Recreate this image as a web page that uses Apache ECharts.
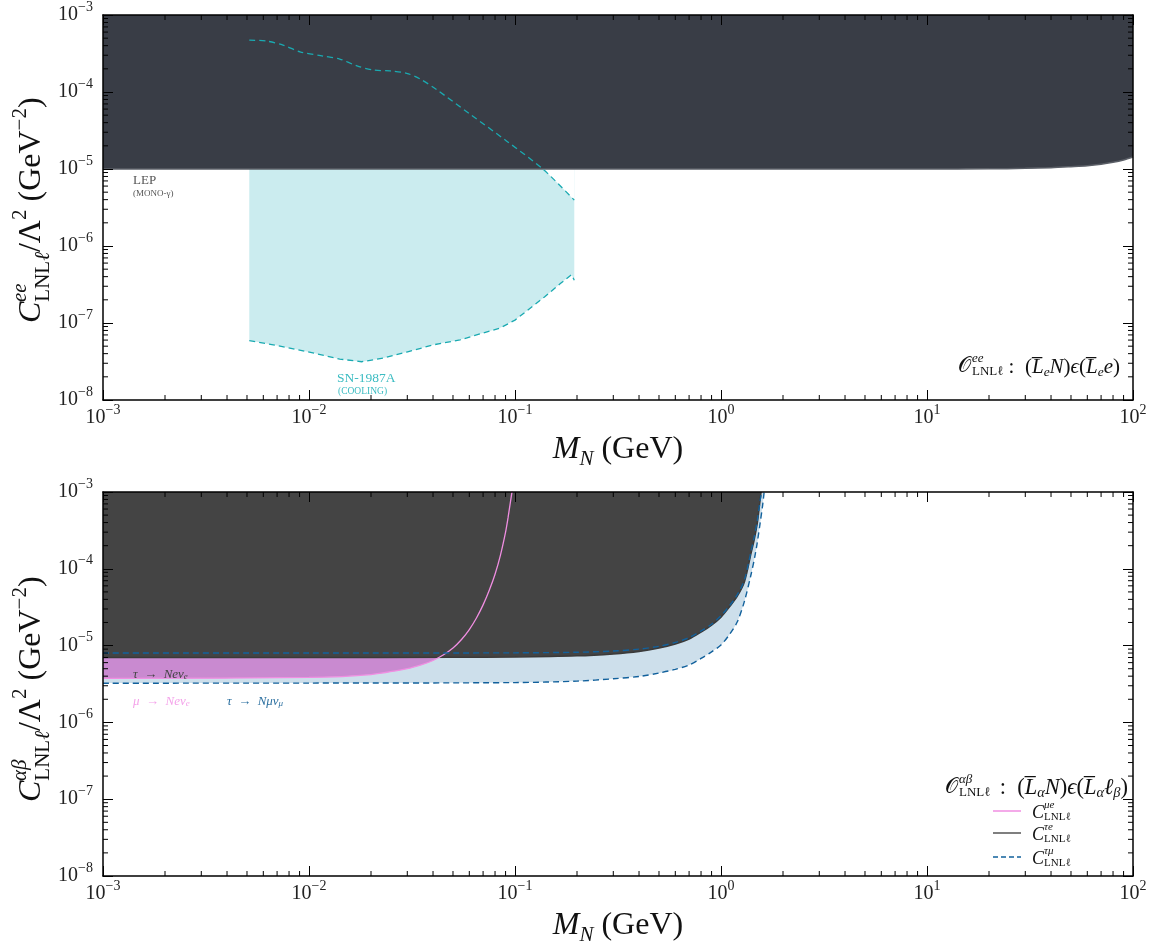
<!DOCTYPE html>
<html><head><meta charset="utf-8">
<script src="https://cdn.jsdelivr.net/npm/echarts@6/dist/echarts.min.js"></script>
<style>html,body{margin:0;padding:0;background:#fff}#c{width:1153px;height:947px}</style>
</head><body><div id="c"></div><script>
// ---------- data ----------
const xMin = 1e-3, xMax = 1e2, yMin = 1e-8, yMax = 1e-3;
const minorMultipliers = [2, 3, 4, 5, 6, 7, 8, 9];

// top panel: LEP mono-photon
const lepMass  = [1e-3, 1, 10, 20, 30, 40, 50, 60, 70, 80, 90, 100];
const lepLimit = [1e-5, 1e-5, 1e-5, 1.005e-5, 1.02e-5, 1.04e-5, 1.07e-5, 1.1e-5, 1.15e-5, 1.22e-5, 1.31e-5, 1.43e-5];
// top panel: SN-1987A cooling band
const snUpperMass = [5.13e-3, 6.24e-3, 7.48e-3, 9.04e-3, 1.17e-2, 1.41e-2, 1.71e-2, 2.05e-2, 2.47e-2, 2.98e-2, 3.46e-2, 4.17e-2, 6.05e-2, 9.12e-2, 0.137, 0.194];
const snUpper     = [4.72e-4, 4.58e-4, 4.06e-4, 3.33e-4, 2.93e-4, 2.68e-4, 2.18e-4, 1.93e-4, 1.88e-4, 1.75e-4, 1.48e-4, 1.07e-4, 5.16e-5, 2.30e-5, 9.9e-6, 3.94e-6];
const snLowerMass = [5.13e-3, 6.71e-3, 9.75e-3, 1.41e-2, 1.80e-2, 2.30e-2, 2.98e-2, 4.01e-2, 5.41e-2, 8.45e-2, 0.1, 0.139, 0.166, 0.188, 0.194];
const snLower     = [5.91e-8, 5.2e-8, 4.26e-8, 3.40e-8, 3.14e-8, 3.51e-8, 4.19e-8, 5.2e-8, 6.04e-8, 8.6e-8, 1.09e-7, 2.18e-7, 3.25e-7, 4.25e-7, 3.59e-7];

// bottom panel
const muEMass  = [1e-3, 1e-2, 2e-2, 3e-2, 3.5e-2, 4e-2, 4.5e-2, 5e-2, 5.5e-2, 6e-2, 6.5e-2, 7e-2, 7.5e-2, 8e-2, 8.5e-2, 9e-2, 9.25e-2, 9.5e-2, 9.75e-2];
const muELimit = [3.75e-6, 3.85e-6, 4.2e-6, 5.0e-6, 5.6e-6, 6.4e-6, 7.6e-6, 9.3e-6, 1.2e-5, 1.62e-5, 2.29e-5, 3.39e-5, 5.25e-5, 8.5e-5, 1.51e-4, 3.0e-4, 4.6e-4, 7.4e-4, 1.15e-3];
const tauEMass  = [1e-3, 1e-2, 0.05, 0.1, 0.2, 0.3, 0.4, 0.5, 0.6, 0.7, 0.8, 0.9, 1.0, 1.1, 1.2, 1.3, 1.4, 1.45, 1.5, 1.53, 1.565];
const tauELimit = [7.0e-6, 7.0e-6, 7.05e-6, 7.1e-6, 7.35e-6, 7.8e-6, 8.4e-6, 9.3e-6, 1.05e-5, 1.22e-5, 1.5e-5, 1.85e-5, 2.35e-5, 3.2e-5, 4.4e-5, 6.8e-5, 1.6e-4, 2.4e-4, 3.9e-4, 6e-4, 1e-3];
const tauMuUpperMass  = [1e-3, 1e-2, 0.1, 0.2, 0.3, 0.4, 0.5, 0.6, 0.7, 0.8, 0.9, 1.0, 1.1, 1.2, 1.3, 1.4, 1.45, 1.5, 1.54, 1.575];
const tauMuUpperLimit = [8.0e-6, 8.0e-6, 8.05e-6, 8.2e-6, 8.5e-6, 9.0e-6, 9.8e-6, 1.1e-5, 1.27e-5, 1.55e-5, 1.9e-5, 2.45e-5, 3.3e-5, 4.6e-5, 7.2e-5, 1.7e-4, 2.6e-4, 4.2e-4, 7e-4, 1e-3];
const tauMuLowerMass  = [1e-3, 1e-2, 0.1, 0.2, 0.3, 0.405, 0.5, 0.6, 0.7, 0.8, 0.9, 1.0, 1.1, 1.2, 1.3, 1.4, 1.46, 1.5, 1.55, 1.59, 1.62];
const tauMuLowerLimit = [3.24e-6, 3.25e-6, 3.3e-6, 3.45e-6, 3.7e-6, 3.98e-6, 4.4e-6, 4.9e-6, 5.6e-6, 6.8e-6, 8.3e-6, 1.02e-5, 1.4e-5, 2.04e-5, 3.8e-5, 8.5e-5, 1.45e-4, 2.2e-4, 4e-4, 6.5e-4, 1e-3];

// ---------- helpers ----------
const SERIF = "'Liberation Serif', 'DejaVu Serif', serif";
const zip = (a, b) => a.map((v, i) => [v, b[i]]);
function expLabel(v) {
  const e = Math.round(Math.log10(v));
  return '{b|10}{e|' + (e < 0 ? '\u2212' + (-e) : e) + '}';
}
const tickRich = {
  b: { fontSize: 20, fontFamily: SERIF, color: '#222', lineHeight: 30 },
  e: { fontSize: 14, fontFamily: SERIF, color: '#222', lineHeight: 16, verticalAlign: 'top' }
};
function minorList(lo, hi) {
  const out = [];
  for (let e = lo; e < hi; e++) for (const m of minorMultipliers) out.push(m * Math.pow(10, e));
  return out;
}
const xMinor = minorList(-3, 2), yMinor = minorList(-8, -3);

const grids = [
  { left: 103, top: 13, width: 1030, height: 387 },
  { left: 103, top: 492, width: 1030, height: 387 }
];
function xAxisPair(gi) {
  const base = { type: 'log', logBase: 10, min: xMin, max: xMax, gridIndex: gi, z: 10,
    splitLine: { show: false }, axisLine: { lineStyle: { color: '#000', width: 1.5 } },
    axisTick: { inside: true, length: 10, lineStyle: { color: '#000', width: 1 } } };
  return [
    Object.assign({}, base, { position: 'bottom',
      axisLabel: { formatter: expLabel, rich: tickRich, margin: 3 },
      name: '{m|M}{s|N}{n| (GeV)}', nameLocation: 'middle', nameGap: 30,
      nameTextStyle: { rich: {
        m: { fontSize: 32, fontFamily: SERIF, fontStyle: 'italic', color: '#111', lineHeight: 40 },
        s: { fontSize: 21, fontFamily: SERIF, fontStyle: 'italic', color: '#111', lineHeight: 22, verticalAlign: 'bottom' },
        n: { fontSize: 32, fontFamily: SERIF, color: '#111', lineHeight: 40 } } } }),
    Object.assign({}, base, { position: 'top', axisLabel: { show: false } })
  ];
}
function yAxisPair(gi) {
  const base = { type: 'log', logBase: 10, min: yMin, max: yMax, gridIndex: gi, z: 10,
    splitLine: { show: false }, axisLine: { lineStyle: { color: '#000', width: 1.5 } },
    axisTick: { inside: true, length: 10, lineStyle: { color: '#000', width: 1 } } };
  return [
    Object.assign({}, base, { position: 'left', axisLabel: { formatter: expLabel, rich: tickRich, margin: 10 } }),
    Object.assign({}, base, { position: 'right', axisLabel: { show: false } })
  ];
}
function minorSeries(ax) {
  const data = xMinor.map(v => [v, yMin, 0]).concat(yMinor.map(v => [xMin, v, 1]));
  return { type: 'custom', xAxisIndex: ax, yAxisIndex: ax, z: 20, silent: true,
    dimensions: ['x', 'y', 'k'], encode: { x: 0, y: 1 }, data,
    renderItem(params, api) {
      const cs = params.coordSys, L = 5;
      const p = api.coord([api.value(0), api.value(1)]);
      const st = { stroke: '#000', lineWidth: 1 };
      if (api.value(2) === 0) {
        return { type: 'group', children: [
          { type: 'line', shape: { x1: p[0], y1: cs.y + cs.height, x2: p[0], y2: cs.y + cs.height - L }, style: st },
          { type: 'line', shape: { x1: p[0], y1: cs.y, x2: p[0], y2: cs.y + L }, style: st } ] };
      }
      return { type: 'group', children: [
        { type: 'line', shape: { x1: cs.x, y1: p[1], x2: cs.x + L, y2: p[1] }, style: st },
        { type: 'line', shape: { x1: cs.x + cs.width, y1: p[1], x2: cs.x + cs.width - L, y2: p[1] }, style: st } ] };
    } };
}
function areaSeries(ax, data, color, z, lineColor, lineWidth, smooth) {
  return { type: 'line', xAxisIndex: ax, yAxisIndex: ax, data, symbol: 'none', z, silent: true,
    smooth: smooth || false,
    lineStyle: { color: lineColor || color, width: lineWidth || 0 },
    areaStyle: { color, opacity: 1, origin: 'end' } };
}
function lineSeries(ax, data, color, width, dashed, z, smooth) {
  return { type: 'line', xAxisIndex: ax, yAxisIndex: ax, data, symbol: 'none', z, silent: true,
    smooth: smooth || false,
    lineStyle: { color, width, type: dashed ? [6, 4] : 'solid' } };
}

// ---------- colours ----------
const cLep = '#393d46', cSnFill = '#cbecef', cSn = '#1aaab1';
const cDark = '#444444', cPinkFill = '#c98ad0', cPink = '#f08ee2', cBlueFill = '#cddfeb', cBlue = '#12619c';
const SM = 0.3;

const series = [
  // top
  areaSeries(0, zip(snLowerMass, snLower), cSnFill, 2),
  areaSeries(0, zip(snUpperMass, snUpper), '#ffffff', 3, null, 0, SM),
  areaSeries(0, zip(lepMass, lepLimit), cLep, 4, '#5b5f67', 1.5, SM),
  lineSeries(0, zip(snUpperMass, snUpper), cSn, 1.3, true, 6, SM),
  lineSeries(0, zip(snLowerMass, snLower), cSn, 1.3, true, 6),
  minorSeries(0),
  // bottom
  areaSeries(2, zip(tauMuLowerMass, tauMuLowerLimit), cBlueFill, 2, null, 0, SM),
  areaSeries(2, zip(muEMass, muELimit), cPinkFill, 3, null, 0, SM),
  areaSeries(2, zip(tauEMass, tauELimit), cDark, 4, '#3a3a3a', 1.5, SM),
  lineSeries(2, zip(muEMass, muELimit), cPink, 1.3, false, 6, SM),
  lineSeries(2, zip(tauMuUpperMass, tauMuUpperLimit), cBlue, 1.4, true, 7, SM),
  lineSeries(2, zip(tauMuLowerMass, tauMuLowerLimit), cBlue, 1.4, true, 7, SM),
  minorSeries(2)
];

// ---------- text annotations ----------
function txt(x, y, text, size, color, extra) {
  return Object.assign({ type: 'text', x, y, z: 30, silent: true,
    style: Object.assign({ text, fontSize: size, fontFamily: SERIF, fill: color,
      align: 'left', verticalAlign: 'middle' }, extra || {}) });
}
function yTitle(cy, supText) {
  const rich = {
    c: { fontSize: 32, fontFamily: SERIF, fontStyle: 'italic', fill: '#111', lineHeight: 44 },
    s: { fontSize: 21, fontFamily: SERIF, fill: '#111', lineHeight: 20, verticalAlign: 'bottom' },
    l: { fontSize: 21, fontFamily: SERIF, fontStyle: 'italic', fill: '#111', lineHeight: 20, verticalAlign: 'bottom' },
    n: { fontSize: 32, fontFamily: SERIF, fill: '#111', lineHeight: 44 },
    p: { fontSize: 21, fontFamily: SERIF, fill: '#111', lineHeight: 20, verticalAlign: 'top' }
  };
  return { type: 'group', x: 32, y: cy, rotation: Math.PI / 2, z: 30, silent: true, children: [
    { type: 'text', x: -117, y: 0, style: { text: '{c|C}{s|LNL}{l|\u2113}{n|/\u039B}{p|2}{n| (GeV}{p|\u22122}{n|)}', rich, align: 'left', verticalAlign: 'middle' } },
    { type: 'text', x: -96, y: -12, style: { text: supText, fontSize: 21, fontFamily: SERIF, fontStyle: 'italic', fill: '#111', align: 'left', verticalAlign: 'middle' } }
  ] };
}
function operator(x, y, right, sup, body, fs) {
  const rich = {
    n: { fontSize: fs, fontFamily: SERIF, fill: '#111' },
    i: { fontSize: fs, fontFamily: SERIF, fontStyle: 'italic', fill: '#111' },
    s: { fontSize: fs * 0.64, fontFamily: SERIF, fontStyle: 'italic', fill: '#111', verticalAlign: 'bottom', lineHeight: 12 }
  };
  return { type: 'group', x, y, z: 30, silent: true, children: [
    { type: 'text', x: 0, y: 0, style: { text: '\uD835\uDCAA', fontSize: 21, fontFamily: "'DejaVu Sans', 'Noto Sans', serif", fill: '#111', verticalAlign: 'middle' } },
    { type: 'text', x: 14, y: -8, style: { text: sup, fontSize: 13, fontFamily: SERIF, fontStyle: 'italic', fill: '#111', verticalAlign: 'middle' } },
    { type: 'text', x: 14, y: 5, style: { text: 'LNL\u2113', fontSize: 13, fontFamily: SERIF, fill: '#111', verticalAlign: 'middle' } },
    { type: 'text', x: right - x, y: 0, style: { text: body, rich, lineHeight: 24, align: 'right', verticalAlign: 'middle' } }
  ] };
}
function legendEntry(y, color, dashed, sup) {
  return { type: 'group', x: 993, y, z: 30, silent: true, children: [
    { type: 'line', shape: { x1: 0, y1: 0, x2: 28, y2: 0 }, style: { stroke: color, lineWidth: 1.5, lineDash: dashed ? [5, 3] : null } },
    { type: 'text', x: 39, y: 2, style: { text: 'C', fontSize: 18, fontFamily: SERIF, fontStyle: 'italic', fill: '#111', verticalAlign: 'middle' } },
    { type: 'text', x: 51, y: -6, style: { text: sup, fontSize: 11, fontFamily: SERIF, fontStyle: 'italic', fill: '#111', verticalAlign: 'middle' } },
    { type: 'text', x: 51, y: 6, style: { text: 'LNL\u2113', fontSize: 11, fontFamily: SERIF, fill: '#111', verticalAlign: 'middle' } }
  ] };
}
const smallRich = (color) => ({
  i: { fontSize: 13, fontFamily: SERIF, fontStyle: 'italic', fill: color },
  s: { fontSize: 9, fontFamily: SERIF, fontStyle: 'italic', fill: color, verticalAlign: 'bottom', lineHeight: 10 },
  a: { fontSize: 13, fontFamily: SERIF, fill: color }
});

const graphic = [
  yTitle(206, 'ee'),
  yTitle(685, '\u03B1\u03B2'),
  txt(133, 181, 'LEP', 13, '#555'),
  txt(133, 194, '(MONO-\u03B3)', 9, '#555'),
  txt(337, 378, 'SN-1987A', 13.5, '#3bbcc2'),
  txt(338, 391, '(COOLING)', 9.5, '#3bbcc2'),
  operator(958, 367, 1120, 'ee', '{n|:  (}{i|L\u0305}{s|e}{i|N}{n|)}{i|\u03F5}{n|(}{i|L\u0305}{s|e}{i|e}{n|)}', 21),
  operator(945, 788, 1128, '\u03B1\u03B2', '{n|:  (}{i|L\u0305}{s|\u03B1}{i|N}{n|)}{i|\u03F5}{n|(}{i|L\u0305}{s|\u03B1}{i|\u2113}{s|\u03B2}{n|)}', 22.5),
  legendEntry(811, cPink, false, '\u03BCe'),
  legendEntry(833, '#555', false, '\u03C4e'),
  legendEntry(857, cBlue, true, '\u03C4\u03BC'),
  { type: 'text', x: 133, y: 675, z: 30, silent: true, style: { text: '{i|\u03C4}{a|  \u2192  }{i|Ne\u03BD}{s|e}', rich: smallRich('#444'), verticalAlign: 'middle' } },
  { type: 'text', x: 133, y: 702, z: 30, silent: true, style: { text: '{i|\u03BC}{a|  \u2192  }{i|Ne\u03BD}{s|e}', rich: smallRich('#f4a3ea'), verticalAlign: 'middle' } },
  { type: 'text', x: 227, y: 702, z: 30, silent: true, style: { text: '{i|\u03C4}{a|  \u2192  }{i|N\u03BC\u03BD}{s|\u03BC}', rich: smallRich('#2c70a0'), verticalAlign: 'middle' } }
];

const chart = echarts.init(document.getElementById('c'));
chart.setOption({
  animation: false,
  backgroundColor: '#fff',
  grid: grids,
  xAxis: xAxisPair(0).concat(xAxisPair(1)),
  yAxis: yAxisPair(0).concat(yAxisPair(1)),
  series,
  graphic
});
</script></body></html>
